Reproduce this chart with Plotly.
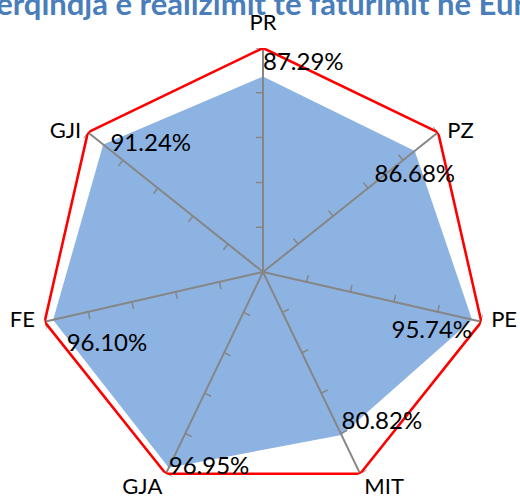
import math
import plotly.graph_objects as go

categories = ["PR", "PZ", "PE", "MIT", "GJA", "FE", "GJI"]
values = [87.29, 86.68, 95.74, 80.82, 96.95, 96.10, 91.24]
target = [100, 100, 100, 100, 100, 100, 100]
tick_values = [20, 40, 60, 80, 100]
title_text = "Përqindja e realizimit të faturimit në Euro"

# label placement styles (text position + invisible marker size used as padding)
cat_label_pos = ["top center", "middle right", "middle right", "bottom right",
                 "bottom left", "middle left", "middle left"]
cat_label_pad = [19, 13, 14, 5, 4, 14, 9]
val_label_pos = ["top right", "bottom center", "bottom left", "top right",
                 "middle right", "bottom right", "middle right"]
val_label_pad = [0, 19, 0, 0, 0, 20, 10]

n = len(categories)
thetas = [i * 360.0 / n for i in range(n)]

fig = go.Figure()

# filled data area
fig.add_trace(go.Scatterpolar(
    r=values + [values[0]], theta=thetas + [thetas[0]],
    mode="lines", fill="toself", fillcolor="#8DB3E2",
    line=dict(color="#8DB3E2", width=0), hoverinfo="skip", showlegend=False))

# spokes
sr, st = [], []
for t in thetas:
    sr += [0, 100, None]
    st += [t, t, None]
fig.add_trace(go.Scatterpolar(r=sr, theta=st, mode="lines",
                              line=dict(color="#868686", width=2),
                              hoverinfo="skip", showlegend=False))

# tick marks on spokes (counter-clockwise side)
d = 3.2
tr, tt = [], []
for t in thetas:
    for v in tick_values:
        tr += [v, math.hypot(v, d), None]
        tt += [t, t - math.degrees(math.atan2(d, v)), None]
fig.add_trace(go.Scatterpolar(r=tr, theta=tt, mode="lines",
                              line=dict(color="#868686", width=1.5),
                              hoverinfo="skip", showlegend=False))

# 100% target outline
fig.add_trace(go.Scatterpolar(
    r=target + [target[0]], theta=thetas + [thetas[0]], mode="lines",
    line=dict(color="#FF0000", width=2.6), hoverinfo="skip", showlegend=False))

# data labels
fig.add_trace(go.Scatterpolar(
    r=values, theta=thetas, mode="markers+text",
    marker=dict(size=val_label_pad, opacity=0, color="white"),
    text=[f"{v:.2f}%" for v in values], textposition=val_label_pos,
    textfont=dict(family="Lato", size=24, color="#000000"),
    cliponaxis=False, hoverinfo="skip", showlegend=False))

# category labels at the 100% vertices
fig.add_trace(go.Scatterpolar(
    r=target, theta=thetas, mode="markers+text",
    marker=dict(size=cat_label_pad, opacity=0, color="white"),
    text=categories, textposition=cat_label_pos,
    textfont=dict(family="Lato", size=22, color="#000000"),
    cliponaxis=False, hoverinfo="skip", showlegend=False))

fig.update_layout(
    width=520, height=496,
    margin=dict(l=0, r=0, t=0, b=0),
    paper_bgcolor="white", plot_bgcolor="white",
    title=dict(text=title_text, x=260 / 520, xanchor="center",
               xref="paper", yref="container", y=1 - 14.5 / 496, yanchor="bottom",
               font=dict(family="Lato", size=31, color="#4A7EBB", weight="bold")),
    polar=dict(
        domain=dict(x=[39 / 520, 487 / 520], y=[0, 448 / 496]),
        bgcolor="rgba(0,0,0,0)",
        gridshape="circular",
        radialaxis=dict(visible=False, range=[0, 100]),
        angularaxis=dict(
            direction="clockwise", rotation=90,
            tickmode="array", tickvals=thetas, ticktext=categories,
            showline=False, showgrid=False, ticks="", showticklabels=False,
        ),
    ),
)

fig.write_html("out.html", config={"displayModeBar": False},
               post_script="document.body.style.margin='0';")
